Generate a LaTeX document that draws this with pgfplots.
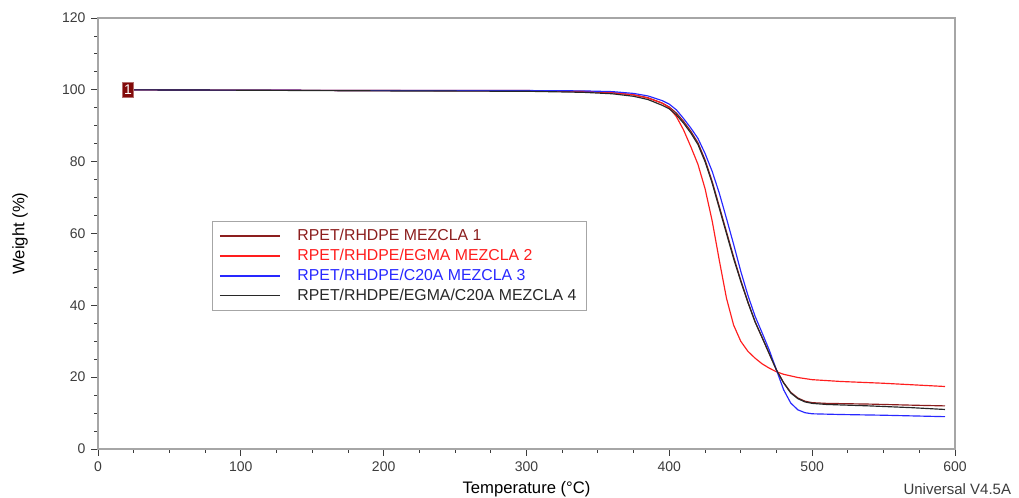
\documentclass[border=0pt]{standalone}
\usepackage{pgfplots}
\pgfplotsset{compat=1.18}
\usepackage{fontspec}
\setmainfont{Liberation Sans}
\definecolor{cbrown}{RGB}{140,30,30}
\definecolor{cred}{RGB}{255,30,30}
\definecolor{cblue}{RGB}{40,40,255}
\definecolor{cblack}{RGB}{40,40,40}
\definecolor{tickc}{RGB}{60,60,60}
\definecolor{cmark}{RGB}{130,10,10}
\begin{document}
\begin{tikzpicture}
\begin{axis}[
  scale only axis,
  width=514.2pt, height=258.6pt,
  xmin=0, xmax=600, ymin=0, ymax=120,
  xtick={0,100,...,600}, ytick={0,20,...,120},
  minor x tick num=3, minor y tick num=3,
  xtick pos=left, ytick pos=left,
  tick align=outside,
  major tick length=4pt, minor tick length=2.2pt,
  tick style={tickc, line width=0.5pt},
  axis line style={gray!70, line width=0.8pt},
  /pgf/number format/assume math mode=true,
  ticklabel style={font=\fontsize{8.4}{10}\selectfont, text=tickc},
  xlabel={Temperature (°C)}, ylabel={Weight (\%)},
  label style={font=\fontsize{8.1}{10}\selectfont, text=tickc},
  every axis x label/.style={at={(axis description cs:0.5,-0.093)}, anchor=center},
  every axis y label/.style={at={(axis description cs:-0.091,0.5)}, rotate=90, anchor=center},
  legend style={at={(0.133,0.529)}, anchor=north west, draw=gray!70, line width=0.6pt,
    font=\fontsize{9.5}{10}\selectfont, inner xsep=4pt, inner ysep=2.6pt, row sep=-0.5pt,
    /tikz/column 1/.style={column sep=8pt}},
  legend cell align=left,
  legend image code/.code={\draw[#1] (0pt,0pt) -- (36pt,0pt);},
  clip=false,
]
\addplot[cbrown, line width=0.7pt, forget plot] coordinates {
(21,100) (100,99.9) (200,99.8) (300,99.7) (340,99.5) (360,99.2) (375,98.6) (385,97.8)
(395,96.3) (400,95.2) (405,93.5) (410,91.2) (415,88.5) (420,85.3) (425,80.5) (430,74.5)
(435,67.5) (440,60.5) (445,53.5) (450,47) (455,41) (460,35.5) (465,31) (470,26.5)
(475,22) (480,18.5) (485,15.8) (490,14.2) (495,13.3) (500,12.9) (510,12.7) (540,12.5)
(570,12.2) (593,12.0)};
\addplot[cred, line width=0.7pt, forget plot] coordinates {
(21,100) (100,99.9) (200,99.8) (300,99.8) (340,99.6) (360,99.2) (375,98.6) (385,97.7)
(395,96.3) (400,95) (405,92.5) (410,88.8) (415,84.2) (420,79.3) (425,72.5) (430,63.5)
(435,52.5) (440,42) (445,34.5) (450,30) (455,27.2) (460,25.3) (465,23.7) (470,22.5)
(475,21.5) (480,20.8) (490,19.9) (500,19.3) (520,18.8) (550,18.3) (593,17.4)};
\addplot[cblue, line width=0.7pt, forget plot] coordinates {
(21,100) (100,99.9) (200,99.8) (300,99.8) (340,99.7) (360,99.5) (375,99.0) (385,98.3)
(395,97.0) (400,96.0) (405,94.4) (410,92.0) (415,89.4) (420,86.5) (425,82.3) (430,77.3)
(435,71.2) (440,64.2) (445,57) (450,49.5) (455,42.8) (460,37) (465,32.3) (470,27.5)
(475,22) (480,16.5) (485,12.8) (490,10.9) (495,10.1) (500,9.8) (520,9.6) (550,9.4) (593,9.0)};
\addplot[cblack, line width=0.7pt, forget plot] coordinates {
(21,100) (100,99.9) (200,99.7) (300,99.6) (340,99.3) (360,98.9) (375,98.2) (385,97.3)
(395,95.7) (400,94.7) (405,93) (410,90.7) (415,88) (420,84.8) (425,80) (430,74)
(435,67) (440,60) (445,53) (450,46.7) (455,40.8) (460,35.4) (465,31) (470,26.5)
(475,22) (480,18.4) (485,15.6) (490,14) (495,13.1) (500,12.7) (510,12.4) (540,12.0)
(570,11.5) (593,11.0)};
\addlegendimage{draw=cbrown, line width=1pt}
\addlegendentry{\textcolor{cbrown}{RPET/RHDPE MEZCLA 1}}
\addlegendimage{draw=cred, line width=1pt}
\addlegendentry{\textcolor{cred}{RPET/RHDPE/EGMA MEZCLA 2}}
\addlegendimage{draw=cblue, line width=1pt}
\addlegendentry{\textcolor{cblue}{RPET/RHDPE/C20A MEZCLA 3}}
\addlegendimage{draw=cblack, line width=1pt}
\addlegendentry{\textcolor{cblack}{RPET/RHDPE/EGMA/C20A MEZCLA 4}}
\node[fill=cmark, text=white, draw=cmark!60, inner xsep=0.8pt, inner ysep=1.8pt,
  font=\fontsize{8.4}{9}\selectfont] at (axis cs:21,100) {1};
\node[anchor=east, font=\fontsize{9}{10}\selectfont, text=tickc]
  at (axis description cs:1.0723,-0.093) {Universal V4.5A};
\end{axis}
\pgfresetboundingbox
\path[use as bounding box] (current axis.south west) ++(-58.8pt,-29.4pt) rectangle ++(611.4pt,298.8pt);
\end{tikzpicture}
\end{document}
